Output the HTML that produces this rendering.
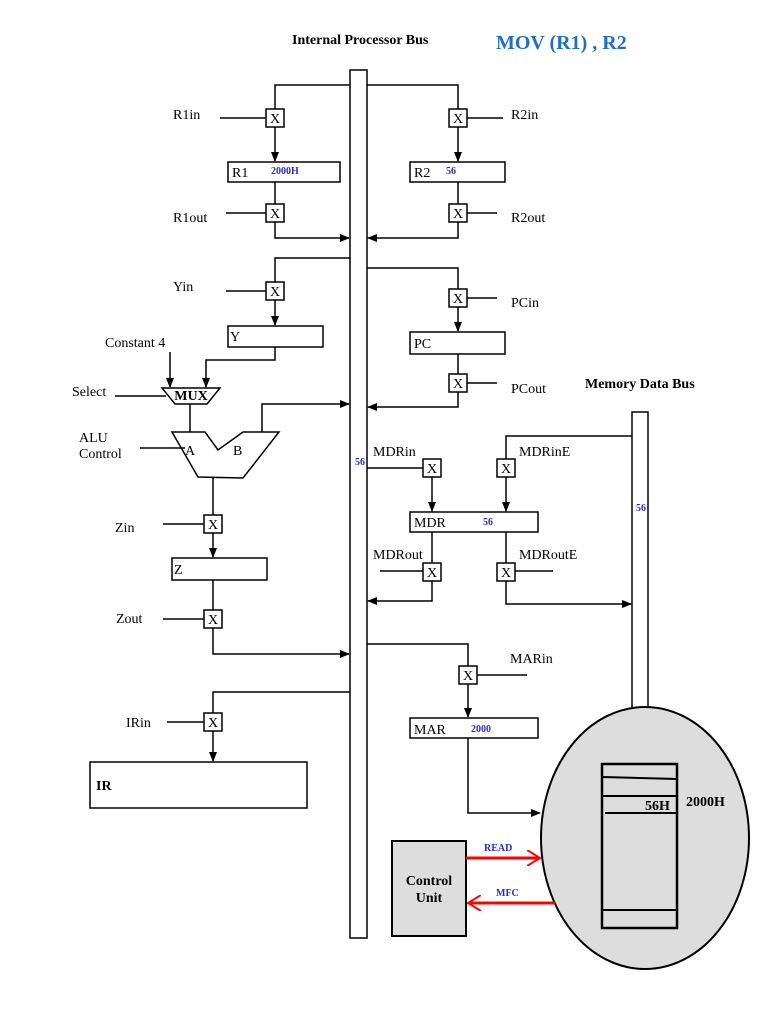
<!DOCTYPE html>
<html><head><meta charset="utf-8"><style>
body{margin:0;background:#fff}
svg{display:block}
text{font-family:"Liberation Serif",serif;font-size:14px;fill:#000}
.b{font-weight:bold}
.bl{fill:#2b2bd8;font-weight:bold;font-size:10px}
</style></head><body>
<svg width="768" height="1024" viewBox="0 0 768 1024" xmlns="http://www.w3.org/2000/svg">
<defs>
<marker id="a" markerWidth="10" markerHeight="8" refX="9" refY="4" orient="auto" markerUnits="userSpaceOnUse"><path d="M0,0 L10,4 L0,8 z" fill="#000"/></marker>
<marker id="r" markerWidth="14" markerHeight="16" refX="13" refY="8" orient="auto" markerUnits="userSpaceOnUse"><path d="M0,0 L13,8 L0,16" fill="none" stroke="red" stroke-width="2"/></marker>
</defs>
<g fill="none" stroke="#000" stroke-width="1.5">
<!-- buses -->
<rect x="350" y="70" width="17" height="868" fill="#fff"/>
<rect x="632" y="412" width="16" height="300" fill="#fff"/>
<!-- R1 -->
<path d="M350 85 H275 V109"/><path d="M275 127 V161" marker-end="url(#a)"/>
<path d="M220 118 H266"/>
<rect x="228" y="162" width="112" height="20"/>
<path d="M275 182 V204"/><path d="M226 213 H266"/>
<path d="M275 222 V238 H349" marker-end="url(#a)"/>
<!-- R2 -->
<path d="M367 85 H458 V109"/><path d="M458 127 V161" marker-end="url(#a)"/>
<path d="M467 118 H503"/>
<rect x="410" y="162" width="95" height="20"/>
<path d="M458 182 V204"/><path d="M467 213 H497"/>
<path d="M458 222 V238 H368" marker-end="url(#a)"/>
<!-- Y -->
<path d="M350 258 H275 V282"/><path d="M275 300 V325" marker-end="url(#a)"/>
<path d="M226 291 H266"/>
<rect x="228" y="326" width="95" height="21"/>
<path d="M275 347 V360 H206 V387" marker-end="url(#a)"/>
<path d="M170 352 V387" marker-end="url(#a)"/>
<polygon points="162,388 220,388 207,404 175,404"/>
<path d="M115 396 H166"/>
<path d="M190 404 V432"/>
<polygon points="172,432 205,432 218,450 243,432 279,432 243,478 198,477"/>
<path d="M262 432 V404 H349" marker-end="url(#a)"/>
<path d="M140 448 H185"/>
<path d="M213 478 V515"/><path d="M213 533 V557" marker-end="url(#a)"/>
<path d="M163 524 H204"/>
<rect x="172" y="558" width="95" height="22"/>
<path d="M213 580 V610"/><path d="M163 619 H204"/>
<path d="M213 628 V654 H349" marker-end="url(#a)"/>
<!-- IR -->
<path d="M350 692 H213 V713"/><path d="M213 731 V761" marker-end="url(#a)"/>
<path d="M167 722 H204"/>
<rect x="90" y="762" width="217" height="46"/>
<!-- PC -->
<path d="M367 268 H458 V289"/><path d="M458 307 V331" marker-end="url(#a)"/>
<path d="M467 298 H497"/>
<rect x="410" y="332" width="95" height="22"/>
<path d="M458 354 V374"/><path d="M467 383 H497"/>
<path d="M458 392 V407 H368" marker-end="url(#a)"/>
<!-- MDR -->
<path d="M367 468 H423"/>
<path d="M432 477 V511" marker-end="url(#a)"/>
<path d="M632 436 H506 V459"/>
<path d="M506 477 V511" marker-end="url(#a)"/>
<rect x="410" y="512" width="128" height="20"/>
<path d="M432 532 V563"/><path d="M506 532 V563"/>
<path d="M380 571 H423"/><path d="M515 571 H553"/>
<path d="M432 581 V601 H368" marker-end="url(#a)"/>
<path d="M506 581 V604 H631" marker-end="url(#a)"/>
<!-- MAR -->
<path d="M367 644 H468 V666"/><path d="M468 684 V717" marker-end="url(#a)"/>
<path d="M477 675 H527"/>
<rect x="410" y="718" width="128" height="20"/>
<path d="M468 738 V813 H540" marker-end="url(#a)"/>
<!-- memory -->
<ellipse cx="645" cy="838" rx="104" ry="131" fill="#ddd" stroke-width="2"/>
<rect x="602" y="764" width="75" height="164" stroke-width="2.5"/>
<path d="M602 777 L677 779 M602 796 H677 M605 813 H677 M602 910 H677" stroke-width="2"/>
<rect x="392" y="841" width="74" height="95" fill="#ddd" stroke-width="2"/>
</g>
<!-- X boxes -->
<g fill="#fff" stroke="#000" stroke-width="1.5">
<rect x="266" y="109" width="18" height="18"/><rect x="266" y="204" width="18" height="18"/>
<rect x="449" y="109" width="18" height="18"/><rect x="449" y="204" width="18" height="18"/>
<rect x="266" y="282" width="18" height="18"/>
<rect x="204" y="515" width="18" height="18"/><rect x="204" y="610" width="18" height="18"/>
<rect x="204" y="713" width="18" height="18"/>
<rect x="449" y="289" width="18" height="18"/><rect x="449" y="374" width="18" height="18"/>
<rect x="423" y="459" width="18" height="18"/><rect x="497" y="459" width="18" height="18"/>
<rect x="423" y="563" width="18" height="18"/><rect x="497" y="563" width="18" height="18"/>
<rect x="459" y="666" width="18" height="18"/>
</g>
<g text-anchor="middle" font-size="13">
<text x="275" y="123">X</text><text x="275" y="218">X</text>
<text x="458" y="123">X</text><text x="458" y="218">X</text>
<text x="275" y="296">X</text>
<text x="213" y="529">X</text><text x="213" y="624">X</text><text x="213" y="727">X</text>
<text x="458" y="303">X</text><text x="458" y="388">X</text>
<text x="432" y="473">X</text><text x="506" y="473">X</text>
<text x="432" y="577">X</text><text x="506" y="577">X</text>
<text x="468" y="680">X</text>
</g>
<path d="M466 858 H540" stroke="red" stroke-width="3" marker-end="url(#r)"/>
<path d="M555 903 H468" stroke="red" stroke-width="3" marker-end="url(#r)"/>
<!-- labels -->
<text x="292" y="44" class="b" font-size="13">Internal Processor Bus</text>
<text x="496" y="49" style="font-size:20px;font-weight:bold;fill:#1f6fc6">MOV (R1) , R2</text>
<text x="585" y="388" class="b" font-size="13">Memory Data Bus</text>
<text x="173" y="119">R1in</text><text x="511" y="119">R2in</text>
<text x="232" y="177">R1</text><text x="271" y="174" class="bl">2000H</text>
<text x="414" y="177">R2</text><text x="446" y="174" class="bl">56</text>
<text x="173" y="222">R1out</text><text x="511" y="222">R2out</text>
<text x="173" y="291">Yin</text>
<text x="230" y="341">Y</text>
<text x="105" y="347">Constant 4</text>
<text x="72" y="396">Select</text>
<text x="191" y="400" text-anchor="middle" class="b" font-size="11">MUX</text>
<text x="79" y="442">ALU</text><text x="79" y="458">Control</text>
<text x="185" y="455">A</text><text x="233" y="455">B</text>
<text x="115" y="532">Zin</text>
<text x="174" y="574">Z</text>
<text x="116" y="623">Zout</text>
<text x="126" y="727">IRin</text>
<text x="96" y="790" class="b">IR</text>
<text x="511" y="307">PCin</text>
<text x="414" y="348">PC</text>
<text x="511" y="393">PCout</text>
<text x="355" y="465" class="bl">56</text>
<text x="636" y="511" class="bl">56</text>
<text x="373" y="456">MDRin</text><text x="519" y="456">MDRinE</text>
<text x="414" y="527">MDR</text><text x="483" y="525" class="bl">56</text>
<text x="373" y="559">MDRout</text><text x="519" y="559">MDRoutE</text>
<text x="510" y="663">MARin</text>
<text x="414" y="734">MAR</text><text x="471" y="732" class="bl">2000</text>
<text x="645" y="810" class="b" font-size="11">56H</text>
<text x="686" y="806" class="b" font-size="11">2000H</text>
<text x="484" y="851" class="bl">READ</text>
<text x="496" y="896" class="bl">MFC</text>
<text x="429" y="885" text-anchor="middle" class="b" font-size="14">Control</text>
<text x="429" y="902" text-anchor="middle" class="b" font-size="14">Unit</text>
</svg>
</body></html>
